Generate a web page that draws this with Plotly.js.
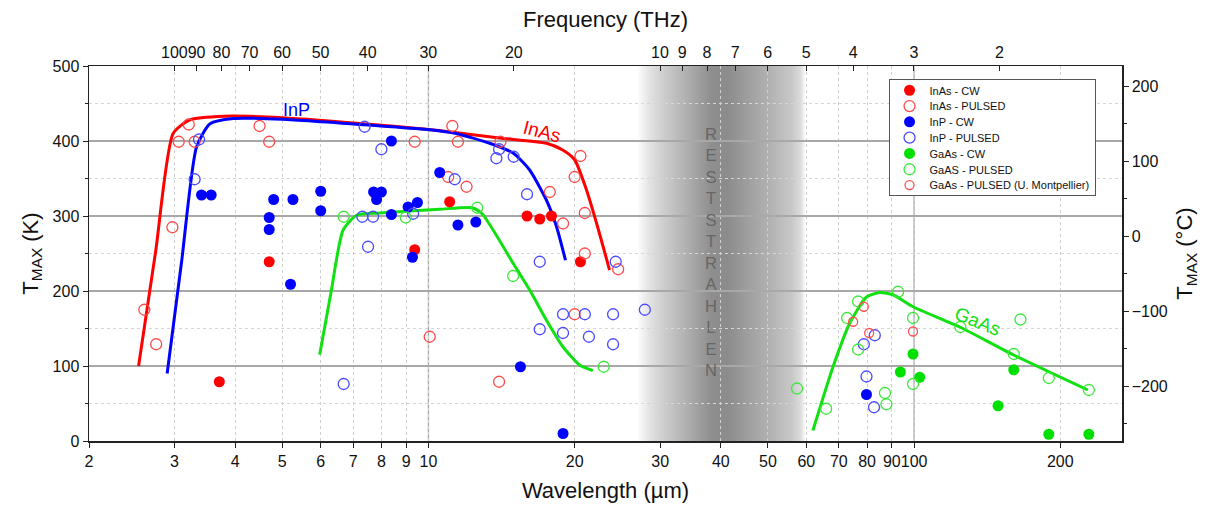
<!DOCTYPE html>
<html><head><meta charset="utf-8">
<script src="https://cdn.plot.ly/plotly-3.0.1.min.js"></script>
<style>html,body{margin:0;padding:0;background:#fff}#chart{width:1214px;height:507px}</style>
</head><body><div id="chart"></div><script>
// ---- data (wavelength in µm, T in K) ----
const inasCwWl = [3.71, 4.70, 9.37, 11.06, 15.96, 16.95, 17.92, 20.56];
const inasCwT  = [79, 239, 255, 319, 300, 296, 300, 239];

const inasPuWl = [2.60, 2.75, 2.97, 3.06, 3.21, 3.30, 4.49, 4.70, 9.37, 10.06, 11.2, 11.5, 10.98, 11.98, 14.07, 13.98, 17.78, 18.93, 20.56, 20.0, 20.99, 20.99, 24.58, 20.0];
const inasPuT  = [175, 129, 285, 399, 422, 399, 420, 399, 399, 139, 420, 399, 352, 339, 399, 79, 332, 290, 380, 352, 304, 250, 229, 169];

const inpCwWl = [3.41, 3.57, 4.70, 4.70, 4.80, 5.26, 5.20, 6.00, 6.00, 7.71, 8.00, 7.82, 8.39, 8.39, 9.08, 9.49, 9.27, 10.55, 11.5, 12.52, 15.47, 18.93, 79.8];
const inpCwT  = [328, 328, 298, 282, 322, 322, 209, 333, 307, 332, 332, 322, 400, 302, 312, 318, 245, 358, 288, 292, 99, 10, 62];

const inpPuWl = [3.37, 3.30, 7.39, 8.00, 7.31, 7.69, 7.51, 6.69, 9.30, 11.33, 13.8, 13.98, 14.98, 15.96, 16.95, 24.3, 18.93, 20.99, 24.0, 16.95, 18.93, 21.4, 24.0, 27.9, 78.8, 83.0, 79.8, 82.7];
const inpPuT  = [402, 349, 419, 389, 299, 299, 259, 76, 303, 349, 377, 389, 379, 329, 239, 239, 169, 169, 169, 149, 144, 139, 129, 175, 129, 141, 86, 45];

const gaasCwWl = [93.7, 99.5, 102.7, 160.4, 148.9, 189.4, 229];
const gaasCwT  = [92, 116, 85, 95, 47, 9, 9];

const gaasPuWl = [6.69, 8.98, 12.6, 14.94, 22.96, 57.4, 65.9, 72.8, 76.7, 76.7, 92.7, 99.5, 99.5, 87.1, 87.7, 124.5, 160.4, 165.6, 189.4, 229];
const gaasPuT  = [299, 298, 311, 220, 99, 70, 43, 164, 186, 122, 199, 164, 76, 64, 49, 152, 116, 162, 84, 68];

const gaasMpWl = [78.8, 74.9, 80.8, 99.5];
const gaasMpT  = [179, 159, 144, 146];

// guide curves
const inasCurveWl = [2.53, 2.745, 2.98, 3.22, 3.8, 5, 8, 10.5, 14, 17.5, 18.9, 20.0, 21.15, 22.2, 23.6];
const inasCurveT  = [100, 254, 410, 428, 433, 431, 421, 414, 404, 397, 388, 375, 335, 290, 228];
const inpCurveWl  = [2.897, 3.105, 3.33, 3.55, 3.96, 5, 8, 10.07, 11.4, 13.37, 14.94, 16.17, 17.5, 18.35, 19.15];
const inpCurveT   = [90, 241, 392, 423, 430, 429, 420, 415, 410, 397, 384, 361, 321, 286, 241];
const gaas1CurveWl = [5.97, 6.30, 6.67, 7.11, 7.95, 10.55, 12.3, 12.9, 14.94, 16.17, 17.5, 18.9, 20.5, 21.8];
const gaas1CurveT  = [115, 198, 281, 301, 304, 309, 311, 303, 237, 201, 161, 126, 101, 94];
const gaas2CurveWl = [61.9, 68.1, 73.7, 79.8, 85, 90.5, 99.5, 124.2, 160, 228];
const gaas2CurveT  = [14, 99, 157, 192, 198, 195, 179, 152, 115, 68];

// axes ticks
const wlTicks = [2,3,4,5,6,7,8,9,10,20,30,40,50,60,70,80,90,100,200];
const freqTicks = [100,90,80,70,60,50,40,30,20,10,9,8,7,6,5,4,3,2];
const celsiusTicks = [-200,-100,0,100,200];
const C_LIGHT = 299.792458; // µm·THz

const WL_MIN = 2, WL_MAX = 268;
const LMIN = Math.log10(WL_MIN), LMAX = Math.log10(WL_MAX);
function paperX(wl){ return (Math.log10(wl)-LMIN)/(LMAX-LMIN); }

// Reststrahlen band shading profile (wavelength -> gray level)
const bandWl   = [26.9, 28.6, 30.7, 34.5, 38.3, 41.3, 44.8, 50.4, 56.0, 58.5, 59.8];
const bandGray = [255, 226, 204, 172, 142, 140, 156, 178, 200, 222, 255];

function grayAt(lw){
  const L = bandWl.map(Math.log10);
  if (lw <= L[0]) return bandGray[0];
  for (let i=0;i<L.length-1;i++){
    if (lw>=L[i] && lw<=L[i+1]){
      const t=(lw-L[i])/(L[i+1]-L[i]);
      return bandGray[i]+t*(bandGray[i+1]-bandGray[i]);
    }
  }
  return bandGray[bandGray.length-1];
}
const l0 = Math.log10(bandWl[0]), l1 = Math.log10(bandWl[bandWl.length-1]);
const cv = document.createElement('canvas');
cv.width = 400; cv.height = 2;
const cx = cv.getContext('2d');
for (let i=0;i<cv.width;i++){
  const g = Math.round(grayAt(l0 + (l1-l0)*(i+0.5)/cv.width));
  cx.fillStyle = `rgb(${g},${g},${g})`;
  cx.fillRect(i,0,1,2);
}
const bandImg = cv.toDataURL('image/png');

const shapes = [];
[10,100].forEach(w=>shapes.push({type:'line', xref:'paper', yref:'paper', layer:'below',
  x0:paperX(w), x1:paperX(w), y0:0, y1:1, line:{color:'#a8a8a8', width:1.3}}));

const RED='#ff0000', BLUE='#0000ff', GREEN='#00e000';

function curve(x,y,c){
  return {x, y, mode:'lines', line:{color:c, width:3, shape:'spline', smoothing:0.6},
    showlegend:false, hoverinfo:'skip'};
}
function pts(x,y,name,c,open,size){
  return {x, y, name, mode:'markers', type:'scatter',
    marker: open ? {symbol:'circle-open', size:size||11, color:c, line:{width:1.3, color:c}}
                 : {symbol:'circle', size:size||11, color:c, line:{width:0}}};
}

const data = [
  curve(inasCurveWl, inasCurveT, RED),
  curve(inpCurveWl, inpCurveT, BLUE),
  curve(gaas1CurveWl, gaas1CurveT, '#11e011'),
  curve(gaas2CurveWl, gaas2CurveT, '#11e011'),
  pts(inasCwWl, inasCwT, 'InAs - CW', RED, false),
  pts(inasPuWl, inasPuT, 'InAs - PULSED', '#ff4a4a', true),
  pts(inpCwWl, inpCwT, 'InP - CW', BLUE, false),
  pts(inpPuWl, inpPuT, 'InP - PULSED', '#4a4aff', true),
  pts(gaasCwWl, gaasCwT, 'GaAs - CW', GREEN, false),
  pts(gaasPuWl, gaasPuT, 'GaAS - PULSED', '#3ae83a', true),
  pts(gaasMpWl, gaasMpT, 'GaAs - PULSED (U. Montpellier)', '#ff5050', true, 9),
  {x:[WL_MIN], y:[-273], xaxis:'x2', yaxis:'y2', mode:'markers', marker:{opacity:0}, showlegend:false, hoverinfo:'skip'}
];

const FONT = 'Liberation Sans, Arial, sans-serif';
const axisLine = {showline:true, linecolor:'#222', linewidth:1.5};

const layout = {
  width:1214, height:507,
  margin:{l:89, r:92, t:66, b:66},
  paper_bgcolor:'#fff', plot_bgcolor:'rgba(0,0,0,0)',
  font:{family:FONT, color:'#111'},
  showlegend:true,
  legend:{x:0.774, y:0.966, xanchor:'left', yanchor:'top', bgcolor:'#fff',
    bordercolor:'#555', borderwidth:1, font:{size:11, family:FONT}, tracegroupgap:0,
    itemwidth:30},
  xaxis:Object.assign({type:'log', range:[LMIN, LMAX], tickvals:wlTicks, ticktext:wlTicks.map(String),
    tickangle:0, ticks:'outside', ticklen:5, tickcolor:'#222', tickfont:{size:16},
    showgrid:true, gridcolor:'#cfcfcf', griddash:'dot', gridwidth:1, zeroline:false,
    title:{text:'Wavelength (\u00b5m)', font:{size:22}, standoff:14}}, axisLine),
  xaxis2:Object.assign({type:'log', overlaying:'x', side:'top', range:[LMIN, LMAX],
    tickvals:freqTicks.map(f=>C_LIGHT/f), ticktext:freqTicks.map(String), tickangle:0,
    ticks:'inside', ticklen:5, tickcolor:'#222', tickfont:{size:16}, showgrid:false, zeroline:false,
    title:{text:'Frequency (THz)', font:{size:22}, standoff:10}}, axisLine),
  yaxis:Object.assign({range:[0,500], dtick:100, ticks:'outside', ticklen:5, tickcolor:'#222',
    tickfont:{size:16}, showgrid:true, gridcolor:'#a8a8a8', gridwidth:1.3, zeroline:false,
    minor:{dtick:50, ticks:'outside', ticklen:3, tickcolor:'#222', showgrid:true, gridcolor:'#d6d6d6', griddash:'dot'},
    title:{text:'T<sub>MAX</sub> (K)', font:{size:22}, standoff:8}}, axisLine),
  yaxis2:Object.assign({overlaying:'y', side:'right', range:[-273.15, 226.85], tickvals:celsiusTicks,
    ticks:'outside', ticklen:5, tickcolor:'#222', tickfont:{size:16}, showgrid:false, zeroline:false,
    minor:{dtick:50, ticks:'outside', ticklen:3, tickcolor:'#222'},
    title:{text:'T<sub>MAX</sub> (\u00b0C)', font:{size:22}, standoff:10}}, axisLine),
  shapes,
  images:[{source:bandImg, xref:'paper', yref:'paper', x:paperX(bandWl[0]), y:1,
    sizex:paperX(bandWl[bandWl.length-1])-paperX(bandWl[0]), sizey:1,
    xanchor:'left', yanchor:'top', sizing:'stretch', layer:'below'}],
  annotations:[
    {xref:'paper', yref:'paper', x:paperX(38.2), y:0.505, showarrow:false,
     text:'R<br>E<br>S<br>T<br>S<br>T<br>R<br>A<br>H<br>L<br>E<br>N', font:{size:16.5, color:'#666'}},
    {xref:'x', yref:'y', x:Math.log10(5.35), y:441, showarrow:false, text:'InP', font:{size:18, color:BLUE}},
    {xref:'x', yref:'y', x:Math.log10(17.1), y:413, showarrow:false, text:'InAs', textangle:15, font:{size:19, color:RED}},
    {xref:'x', yref:'y', x:Math.log10(135.4), y:160, showarrow:false, text:'GaAs', textangle:22, font:{size:19, color:'#11e011'}}
  ]
};

Plotly.newPlot('chart', data, layout, {displayModeBar:false, staticPlot:true}).then(gd=>{
  // tighten legend row spacing to match reference
  const tr = Array.from(gd.querySelectorAll('.legend .traces'));
  if (tr.length < 2) return;
  const getP = el => { const m = /translate\(\s*([-\d.]+)[ ,]+([-\d.]+)\s*\)/.exec(el.getAttribute('transform')||''); return m ? [parseFloat(m[1]), parseFloat(m[2])] : [0,0]; };
  const p0 = getP(tr[0]);
  const step = 15.8, first = 11.5;
  tr.forEach((t,i)=>{ const p = getP(t); t.setAttribute('transform', `translate(${p[0]},${first+i*step})`); });
  const bg = gd.querySelector('.legend rect.bg');
  if (bg){ bg.setAttribute('height', first + (tr.length-1)*step + 10); }
});
</script></body></html>
